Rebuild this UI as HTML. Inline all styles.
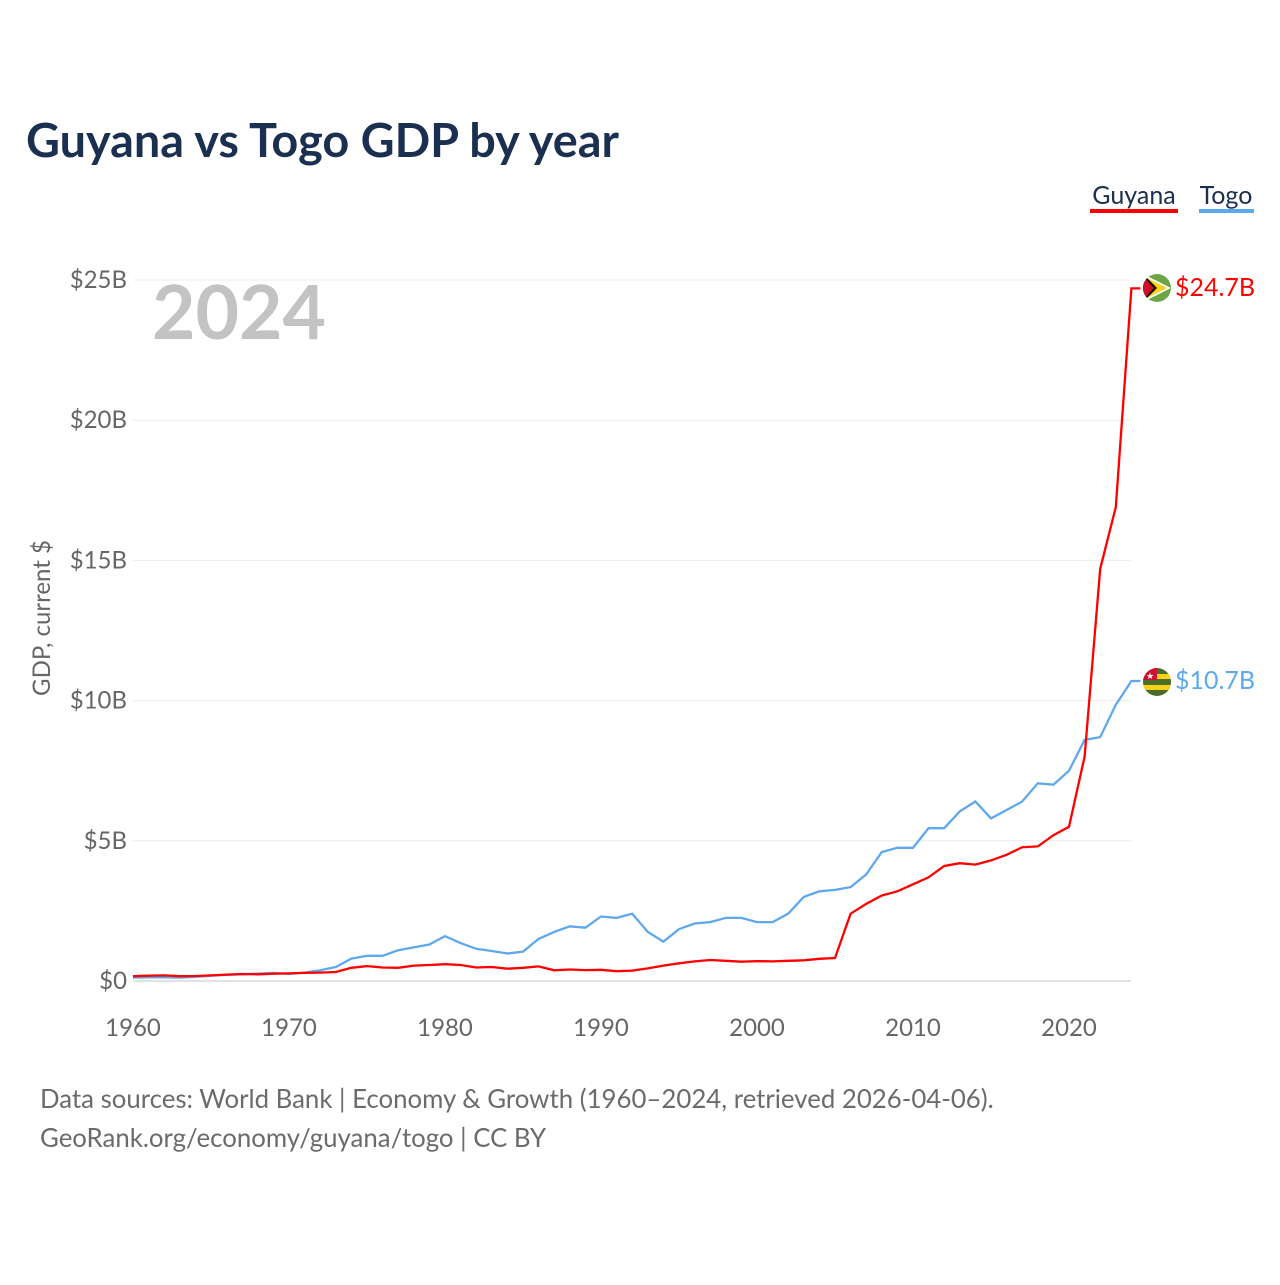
<!DOCTYPE html>
<html><head><meta charset="utf-8"><style>
body{margin:0;background:#fff;width:1280px;height:1280px;overflow:hidden;font-family:"Liberation Sans",sans-serif}
</style></head><body>
<svg id="chart" width="1280" height="1280" xmlns="http://www.w3.org/2000/svg" font-family="Lato, 'Liberation Sans', sans-serif">
<text x="26" y="157" font-size="46.8" font-weight="bold" fill="#1b2f50">Guyana vs Togo GDP by year</text>
<g><text x="1134" y="204" font-size="25" fill="#1b2f50" text-anchor="middle">Guyana</text><rect x="1090" y="209" width="88" height="4" fill="#ff0000"/></g>
<g><text x="1226" y="204" font-size="25" fill="#1b2f50" text-anchor="middle">Togo</text><rect x="1199" y="209" width="55" height="4" fill="#5ea8ee"/></g>
<text x="152" y="339" font-size="75" font-weight="bold" fill="#c3c3c3">2024</text>
<text transform="translate(50,618) rotate(-90)" text-anchor="middle" font-size="24" fill="#666">GDP, current $</text>
<g id="grid"></g><g id="xt"></g><g id="lines"></g>
<g><clipPath id="c1"><circle cx="1157" cy="288" r="14"/></clipPath><g clip-path="url(#c1)"><rect x="1143" y="274" width="28" height="28" fill="#6ea545"/><polygon points="1143,274 1171,288 1143,302" fill="#fff"/><polygon points="1143,276 1167,288 1143,300" fill="#fcd116"/><polygon points="1143,274 1157,288 1143,302" fill="#000"/><polygon points="1143,276 1154,288 1143,300" fill="#ce1126"/></g></g>
<g><clipPath id="c2"><circle cx="1157" cy="682" r="14"/></clipPath><g clip-path="url(#c2)"><rect x="1143" y="668" width="28" height="28" fill="#4a6d2a"/><rect x="1143" y="674" width="28" height="5" fill="#fcd116"/><rect x="1143" y="685" width="28" height="5" fill="#fcd116"/><rect x="1143" y="668" width="14" height="12" fill="#d21034"/><text x="1150" y="679" font-size="9" fill="#fff" text-anchor="middle">★</text></g></g>
<text x="1175" y="296" font-size="25" fill="#ff0000">$24.7B</text>
<text x="1175" y="689" font-size="25" fill="#5ea8ee">$10.7B</text>
<text x="40" y="1108" font-size="25.8" fill="#6b6b6b">Data sources: World Bank | Economy &amp; Growth (1960–2024, retrieved 2026-04-06).</text>
<text x="40" y="1147" font-size="25.8" fill="#6b6b6b">GeoRank.org/economy/guyana/togo | CC BY</text>
</svg>
<script>
const years=[];for(let y=1960;y<=2024;y++)years.push(y);
const guyana=[0.17,0.19,0.2,0.17,0.18,0.2,0.23,0.25,0.24,0.26,0.27,0.29,0.3,0.32,0.47,0.53,0.48,0.47,0.55,0.57,0.6,0.57,0.48,0.5,0.44,0.47,0.52,0.38,0.41,0.39,0.4,0.35,0.37,0.45,0.55,0.63,0.7,0.75,0.72,0.69,0.71,0.7,0.72,0.74,0.79,0.82,2.4,2.75,3.05,3.2,3.45,3.7,4.1,4.2,4.15,4.3,4.5,4.77,4.8,5.2,5.5,8.0,14.7,16.9,24.7];
const togo=[0.12,0.13,0.13,0.12,0.15,0.19,0.22,0.24,0.26,0.29,0.25,0.3,0.38,0.5,0.8,0.9,0.9,1.1,1.2,1.3,1.6,1.35,1.15,1.07,0.98,1.05,1.5,1.75,1.95,1.9,2.3,2.25,2.4,1.75,1.4,1.85,2.05,2.1,2.25,2.25,2.1,2.1,2.4,3.0,3.2,3.25,3.35,3.8,4.6,4.75,4.75,5.45,5.45,6.05,6.4,5.8,6.1,6.4,7.05,7.0,7.5,8.6,8.7,9.85,10.7];
const yTicks=[0,5,10,15,20,25];
const yTickLabels=["$0","$5B","$10B","$15B","$20B","$25B"];
const xTicks=[1960,1970,1980,1990,2000,2010,2020];
const NS="http://www.w3.org/2000/svg";
const X=y=>133+(y-1960)*15.6, Y=v=>981-v*28.04;
const grid=document.getElementById('grid');
yTicks.forEach((t,i)=>{
 const l=document.createElementNS(NS,'line');
 l.setAttribute('x1',133);l.setAttribute('x2',1131);l.setAttribute('y1',Y(t));l.setAttribute('y2',Y(t));
 l.setAttribute('stroke',t===0?'#e2e2e2':'#ececec');l.setAttribute('stroke-width',t===0?2:1);
 
 
 grid.appendChild(l);
 const tx=document.createElementNS(NS,'text');
 tx.setAttribute('x',127);tx.setAttribute('y',Y(t)+8);tx.setAttribute('text-anchor','end');
 tx.setAttribute('font-size','24');tx.setAttribute('fill','#666');tx.textContent=yTickLabels[i];
 
 
 grid.appendChild(tx);
});
const xt=document.getElementById('xt');
xTicks.forEach(t=>{
 const tx=document.createElementNS(NS,'text');
 tx.setAttribute('x',X(t));tx.setAttribute('y',1036);tx.setAttribute('text-anchor','middle');
 tx.setAttribute('font-size','24');tx.setAttribute('fill','#666');tx.textContent=t;
 
 
 xt.appendChild(tx);
});
const lines=document.getElementById('lines');
function draw(vals,color,name){
 let d=vals.map((v,i)=>(i?'L':'M')+X(years[i]).toFixed(1)+','+Y(v).toFixed(1)).join(' ');
 d+=' L'+(X(2024)+9)+','+Y(vals[vals.length-1]).toFixed(1);
 const p=document.createElementNS(NS,'path');
 p.setAttribute('d',d);p.setAttribute('fill','none');p.setAttribute('stroke',color);p.setAttribute('stroke-width','2.3');
 
 
 lines.appendChild(p);
}
draw(togo,'#5ea8ee','togo-line');
draw(guyana,'#ff0000','guyana-line');
</script>
</body></html>
